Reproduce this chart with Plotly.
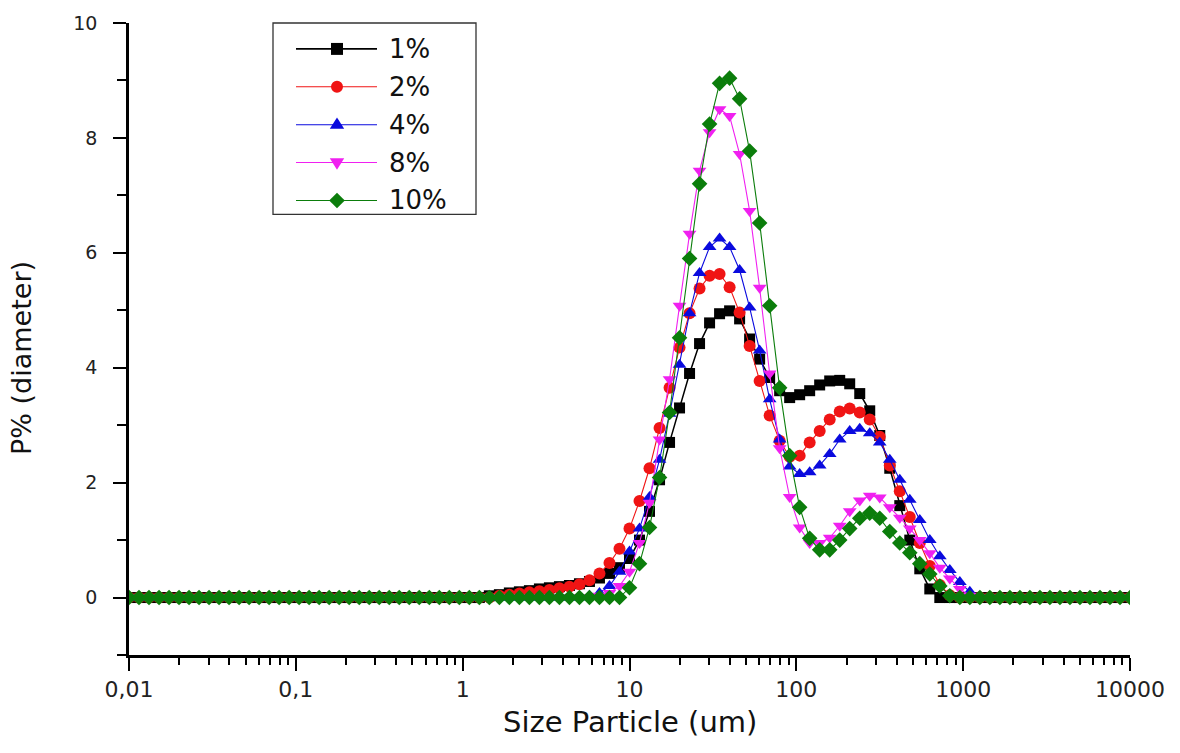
import plotly.graph_objects as go

# Particle size classes (um), log-spaced from 0.01 to 10000
size_um = [
    0.01, 0.01148, 0.01318, 0.01514, 0.01738, 0.01995, 0.02291, 0.0263, 0.0302, 0.03467,
    0.03981, 0.04571, 0.05248, 0.06026, 0.06918, 0.07943, 0.0912,
    0.1047, 0.1202, 0.138, 0.1585, 0.182, 0.2089, 0.2399, 0.2754, 0.3162, 0.3631,
    0.4169, 0.4786, 0.5495, 0.631, 0.7244, 0.8318, 0.955,
    1.096, 1.259, 1.445, 1.66, 1.905, 2.188, 2.512, 2.884, 3.311, 3.802,
    4.365, 5.012, 5.754, 6.607, 7.586, 8.71,
    10.0, 11.48, 13.18, 15.14, 17.38, 19.95, 22.91, 26.3, 30.2, 34.67,
    39.81, 45.71, 52.48, 60.26, 69.18, 79.43, 91.2,
    104.7, 120.2, 138.0, 158.5, 182.0, 208.9, 239.9, 275.4, 316.2, 363.1,
    416.9, 478.6, 549.5, 631.0, 724.4, 831.8, 955.0,
    1096, 1259, 1445, 1660, 1905, 2188, 2512, 2884, 3311, 3802,
    4365, 5012, 5754, 6607, 7586, 8710,
    10000,
]

p_1 = [
    0, 0, 0, 0, 0, 0, 0, 0, 0, 0,
    0, 0, 0, 0, 0, 0, 0, 0, 0, 0,
    0, 0, 0, 0, 0, 0, 0, 0, 0, 0,
    0, 0, 0, 0, 0, 0, 0.03, 0.05, 0.08, 0.10,
    0.12, 0.15, 0.17, 0.19, 0.21, 0.24, 0.28, 0.34, 0.42, 0.52,
    0.68, 1.00, 1.50, 2.05, 2.70, 3.30, 3.90, 4.42, 4.78, 4.94,
    4.99, 4.85, 4.50, 4.15, 3.83, 3.60, 3.48, 3.53, 3.60, 3.70,
    3.77, 3.78, 3.72, 3.55, 3.25, 2.82, 2.25, 1.60, 1.00, 0.50,
    0.15, 0, 0, 0, 0, 0, 0, 0, 0, 0,
    0, 0, 0, 0, 0, 0, 0, 0, 0, 0,
    0,
]

p_2 = [
    0, 0, 0, 0, 0, 0, 0, 0, 0, 0,
    0, 0, 0, 0, 0, 0, 0, 0, 0, 0,
    0, 0, 0, 0, 0, 0, 0, 0, 0, 0,
    0, 0, 0, 0, 0, 0, 0, 0.03, 0.05, 0.07,
    0.09, 0.11, 0.13, 0.16, 0.19, 0.23, 0.30, 0.42, 0.60, 0.85,
    1.20, 1.68, 2.25, 2.95, 3.65, 4.35, 4.95, 5.38, 5.60, 5.63,
    5.40, 4.96, 4.38, 3.77, 3.17, 2.73, 2.45, 2.47, 2.70, 2.90,
    3.10, 3.24, 3.29, 3.22, 3.10, 2.80, 2.30, 1.85, 1.40, 0.95,
    0.55, 0.22, 0.04, 0, 0, 0, 0, 0, 0, 0,
    0, 0, 0, 0, 0, 0, 0, 0, 0, 0,
    0,
]

p_4 = [
    0, 0, 0, 0, 0, 0, 0, 0, 0, 0,
    0, 0, 0, 0, 0, 0, 0, 0, 0, 0,
    0, 0, 0, 0, 0, 0, 0, 0, 0, 0,
    0, 0, 0, 0, 0, 0, 0, 0, 0, 0,
    0, 0, 0, 0, 0, 0, 0.03, 0.08, 0.20, 0.45,
    0.80, 1.20, 1.75, 2.40, 3.20, 4.05, 4.95, 5.65, 6.10, 6.25,
    6.10, 5.70, 5.05, 4.30, 3.45, 2.75, 2.28, 2.15, 2.18, 2.30,
    2.50, 2.75, 2.90, 2.94, 2.86, 2.70, 2.40, 2.05, 1.70, 1.35,
    1.00, 0.72, 0.48, 0.27, 0.10, 0, 0, 0, 0, 0,
    0, 0, 0, 0, 0, 0, 0, 0, 0, 0,
    0,
]

p_8 = [
    0, 0, 0, 0, 0, 0, 0, 0, 0, 0,
    0, 0, 0, 0, 0, 0, 0, 0, 0, 0,
    0, 0, 0, 0, 0, 0, 0, 0, 0, 0,
    0, 0, 0, 0, 0, 0, 0, 0, 0, 0,
    0, 0, 0, 0, 0, 0, 0, 0.03, 0.08, 0.20,
    0.45, 0.95, 1.65, 2.75, 3.80, 5.08, 6.33, 7.43, 8.10, 8.50,
    8.38, 7.72, 6.73, 5.39, 3.90, 2.60, 1.75, 1.22, 0.95, 0.95,
    1.04, 1.25, 1.50, 1.69, 1.77, 1.74, 1.57, 1.39, 1.20, 1.00,
    0.77, 0.52, 0.33, 0.15, 0.03, 0, 0, 0, 0, 0,
    0, 0, 0, 0, 0, 0, 0, 0, 0, 0,
    0,
]

p_10 = [
    0, 0, 0, 0, 0, 0, 0, 0, 0, 0,
    0, 0, 0, 0, 0, 0, 0, 0, 0, 0,
    0, 0, 0, 0, 0, 0, 0, 0, 0, 0,
    0, 0, 0, 0, 0, 0, 0, 0, 0, 0,
    0, 0, 0, 0, 0, 0, 0, 0, 0, 0,
    0.17, 0.59, 1.22, 2.09, 3.22, 4.52, 5.90, 7.20, 8.24, 8.95,
    9.04, 8.68, 7.77, 6.52, 5.08, 3.65, 2.47, 1.57, 1.03, 0.83,
    0.83, 1.00, 1.20, 1.38, 1.47, 1.38, 1.15, 0.95, 0.78, 0.59,
    0.41, 0.20, 0.03, 0, 0, 0, 0, 0, 0, 0,
    0, 0, 0, 0, 0, 0, 0, 0, 0, 0,
    0,
]

series_names = ["1%", "2%", "4%", "8%", "10%"]
series_values = [p_1, p_2, p_4, p_8, p_10]
series_colors = ["#000000", "#f01414", "#0a0ade", "#f020f0", "#0b7d0b"]
series_symbols = ["square", "circle", "triangle-up", "triangle-down", "diamond"]
series_sizes = [11, 12, 12, 12, 12]

x_tick_vals = [0.01, 0.1, 1, 10, 100, 1000, 10000]
x_tick_text = ["0,01", "0,1", "1", "10", "100", "1000", "10000"]

FONT = "DejaVu Sans"

fig = go.Figure()
for name, vals, col, sym, sz in zip(series_names, series_values, series_colors,
                                    series_symbols, series_sizes):
    fig.add_trace(go.Scatter(
        x=size_um, y=vals, name=name, mode="lines+markers",
        line=dict(color=col, width=1.5 if name == "1%" else 1.1),
        marker=dict(symbol=sym, size=sz, color=col),
        showlegend=False,
    ))

# plot-area geometry in pixels (used to place the hand-drawn legend)
L, R, T, B = 129, 1130, 21, 655
W, H = R - L, B - T


def px(x):
    return (x - L) / W


def py(y):
    return (B - y) / H


def symbol_path(symbol, cx, cy, r):
    if symbol == "square":
        pts = [(cx - r, cy - r), (cx + r, cy - r), (cx + r, cy + r), (cx - r, cy + r)]
    elif symbol == "triangle-up":
        pts = [(cx, cy - r * 1.2), (cx + r * 1.2, cy + r * 0.7), (cx - r * 1.2, cy + r * 0.7)]
    elif symbol == "triangle-down":
        pts = [(cx, cy + r * 1.2), (cx + r * 1.2, cy - r * 0.7), (cx - r * 1.2, cy - r * 0.7)]
    else:  # diamond
        pts = [(cx, cy - r * 1.3), (cx + r * 1.3, cy), (cx, cy + r * 1.3), (cx - r * 1.3, cy)]
    return "M " + " L ".join(f"{px(a):.5f},{py(b):.5f}" for a, b in pts) + " Z"


shapes = [dict(type="rect", xref="paper", yref="paper",
               x0=px(273), x1=px(476), y0=py(213), y1=py(21),
               line=dict(color="#333333", width=1.3), fillcolor="white", layer="above")]
annotations = []
for i, (name, col, sym) in enumerate(zip(series_names, series_colors, series_symbols)):
    ly = 47 + 38 * i
    shapes.append(dict(type="line", xref="paper", yref="paper",
                       x0=px(296), x1=px(377), y0=py(ly), y1=py(ly),
                       line=dict(color=col, width=1.6 if i == 0 else 1.1), layer="above"))
    if sym == "circle":
        shapes.append(dict(type="circle", xref="paper", yref="paper",
                           x0=px(337 - 6), x1=px(337 + 6), y0=py(ly + 6), y1=py(ly - 6),
                           fillcolor=col, line=dict(width=0), layer="above"))
    else:
        shapes.append(dict(type="path", xref="paper", yref="paper",
                           path=symbol_path(sym, 337, ly, 6),
                           fillcolor=col, line=dict(width=0), layer="above"))
    annotations.append(dict(xref="paper", yref="paper", x=px(387), y=py(ly),
                            xanchor="left", yanchor="middle", showarrow=False,
                            text=name, font=dict(family=FONT, size=26, color="#111111")))

annotations.append(dict(xref="paper", yref="paper", x=px(630), y=py(722),
                        xanchor="center", yanchor="middle", showarrow=False,
                        text="Size Particle (um)",
                        font=dict(family=FONT, size=29, color="#111111")))
annotations.append(dict(xref="paper", yref="paper", x=px(22), y=py(357),
                        xanchor="center", yanchor="middle", showarrow=False, textangle=-90,
                        text="P% (diameter)",
                        font=dict(family=FONT, size=27, color="#111111")))

x_minor = [m * 10 ** e for e in range(-2, 4) for m in range(2, 10)]

fig.update_xaxes(
    type="log", range=[-2, 4],
    tickmode="array", tickvals=x_tick_vals, ticktext=x_tick_text,
    ticks="outside", ticklen=13, tickwidth=2.2, tickcolor="black",
    minor=dict(tickmode="array", tickvals=x_minor, ticks="outside",
               ticklen=7, tickwidth=2.2, tickcolor="black"),
    showline=True, linecolor="black", linewidth=2.6,
    showgrid=False, zeroline=False,
    tickfont=dict(family=FONT, size=22, color="#222222"),
    ticklabelstandoff=0,
)
fig.update_yaxes(
    range=[-1, 10], tick0=0, dtick=2,
    ticks="outside", ticklen=13, tickwidth=2.2, tickcolor="black",
    minor=dict(dtick=1, ticks="outside", ticklen=9, tickwidth=2.2, tickcolor="black"),
    showline=True, linecolor="black", linewidth=2.6,
    showgrid=False, zeroline=False,
    tickfont=dict(family=FONT, size=19, color="#222222"),
    ticklabelstandoff=12,
)

fig.update_layout(
    width=1180, height=753,
    margin=dict(l=L, r=1180 - R, t=T, b=753 - B, pad=0),
    paper_bgcolor="white", plot_bgcolor="white",
    showlegend=False,
    shapes=shapes, annotations=annotations,
)

fig.write_html("out.html")
